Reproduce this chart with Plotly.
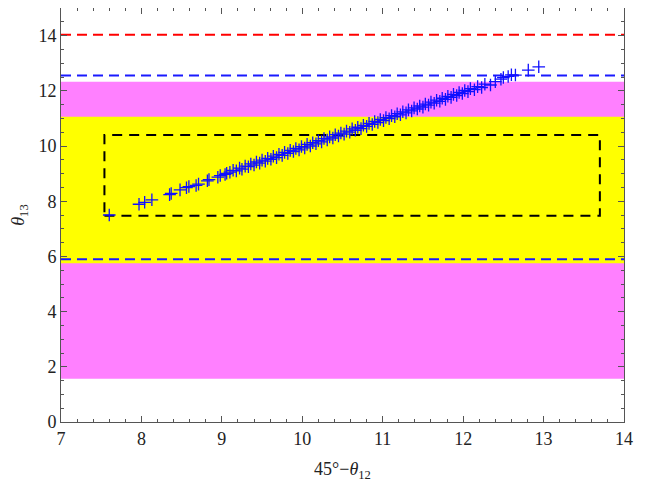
import plotly.graph_objects as go

# scatter points (45° - theta12, theta13)
x_pts = [7.60, 7.97, 8.04, 8.13, 8.35, 8.37, 8.48, 8.56, 8.59, 8.68, 8.71, 8.82, 8.84, 8.95, 8.98, 9.04, 9.06,
         9.10, 9.14, 9.18, 9.22, 9.25, 9.29, 9.33, 9.36, 9.40, 9.43, 9.47, 9.50, 9.54, 9.57, 9.61, 9.64, 9.68,
         9.71, 9.75, 9.78, 9.82, 9.85, 9.89, 9.92, 9.96, 9.99, 10.03, 10.06, 10.10, 10.13, 10.17, 10.20, 10.24,
         10.27, 10.31, 10.34, 10.38, 10.41, 10.45, 10.48, 10.52, 10.55, 10.59, 10.62, 10.66, 10.69, 10.73, 10.76,
         10.80, 10.83, 10.87, 10.90, 10.94, 10.97, 11.01, 11.04, 11.08, 11.11, 11.15, 11.18, 11.22, 11.25, 11.29,
         11.32, 11.36, 11.39, 11.43, 11.46, 11.50, 11.53, 11.57, 11.60, 11.64, 11.67, 11.71, 11.74, 11.78, 11.81,
         11.85, 11.88, 11.92, 11.95, 11.99, 12.02, 12.06, 12.09, 12.14, 12.18, 12.23, 12.27, 12.34, 12.40, 12.47,
         12.50, 12.56, 12.60, 12.65, 12.81, 12.94]
y_pts = [7.50, 7.89, 7.96, 8.05, 8.24, 8.28, 8.41, 8.49, 8.53, 8.57, 8.62, 8.74, 8.78, 8.87, 8.93, 8.97, 9.01,
         9.05, 9.12, 9.10, 9.20, 9.16, 9.27, 9.25, 9.35, 9.31, 9.42, 9.38, 9.49, 9.45, 9.55, 9.52, 9.63, 9.58,
         9.70, 9.66, 9.77, 9.73, 9.84, 9.80, 9.91, 9.86, 9.98, 9.93, 10.06, 10.00, 10.12, 10.08, 10.19, 10.15,
         10.27, 10.22, 10.33, 10.29, 10.41, 10.36, 10.47, 10.43, 10.54, 10.50, 10.62, 10.57, 10.68, 10.63, 10.75,
         10.71, 10.82, 10.78, 10.89, 10.85, 10.96, 10.92, 11.03, 10.99, 11.10, 11.06, 11.17, 11.13, 11.24, 11.20,
         11.31, 11.27, 11.38, 11.34, 11.45, 11.41, 11.52, 11.48, 11.59, 11.55, 11.66, 11.62, 11.73, 11.69, 11.80,
         11.76, 11.87, 11.83, 11.94, 11.90, 12.01, 11.97, 12.08, 12.04, 12.15, 12.12, 12.24, 12.21, 12.33, 12.42,
         12.48, 12.52, 12.58, 12.57, 12.75, 12.87]

# horizontal bands (y ranges)
magenta_band = [1.57, 12.33]
yellow_band = [5.75, 11.06]
# dashed horizontal lines
red_line_y = 14.03
blue_lines_y = [12.55, 5.9]
# dashed black box
box_x = [7.54, 13.70]
box_y = [7.47, 10.40]

x_range = [7, 14]
y_range = [0, 15]
x_ticks = [7, 8, 9, 10, 11, 12, 13, 14]
y_ticks = [0, 2, 4, 6, 8, 10, 12, 14]

fig = go.Figure()
fig.add_trace(go.Scatter(
    x=x_pts, y=y_pts, mode="markers",
    marker=dict(symbol="cross-thin", size=9, line=dict(color="#1010ff", width=1.3), color="#1010ff"),
    showlegend=False))

shapes = [
    dict(type="rect", xref="x", yref="y", x0=x_range[0], x1=x_range[1], y0=magenta_band[0], y1=magenta_band[1],
         fillcolor="#ff80ff", line=dict(width=0), layer="below"),
    dict(type="rect", xref="x", yref="y", x0=x_range[0], x1=x_range[1], y0=yellow_band[0], y1=yellow_band[1],
         fillcolor="#ffff00", line=dict(width=0), layer="below"),
    dict(type="line", xref="x", yref="y", x0=x_range[0], x1=x_range[1], y0=red_line_y, y1=red_line_y,
         line=dict(color="#ff0000", width=2, dash="10px,6px"), layer="below"),
    dict(type="rect", xref="x", yref="y", x0=box_x[0], x1=box_x[1], y0=box_y[0], y1=box_y[1],
         line=dict(color="black", width=2, dash="10px,7px"), fillcolor="rgba(0,0,0,0)", layer="below"),
]
for yb in blue_lines_y:
    shapes.append(dict(type="line", xref="x", yref="y", x0=x_range[0], x1=x_range[1], y0=yb, y1=yb,
                       line=dict(color="#1a1aff", width=2, dash="10px,6px"), layer="below"))
fig.update_layout(shapes=shapes)

font = dict(family="Liberation Serif", size=18, color="#222")
axis_common = dict(showgrid=False, zeroline=False, showline=True, linecolor="#555", linewidth=1,
                   ticks="inside", ticklen=6, tickcolor="#555", mirror="ticks", tickfont=font,
                   automargin=False)
fig.update_xaxes(range=x_range, tickvals=x_ticks, **axis_common,
                 minor=dict(ticks="inside", ticklen=3, dtick=0.2, tickcolor="#555", showgrid=False),
                 title=dict(text="45°−<i>θ</i><sub>12</sub>", font=font, standoff=16))
fig.update_yaxes(range=y_range, tickvals=y_ticks, **axis_common,
                 minor=dict(ticks="inside", ticklen=3, dtick=0.5, tickcolor="#555", showgrid=False),
                 title=dict(text="<i>θ</i><sub>13</sub>", font=font, standoff=12))
fig.update_layout(width=631, height=474, margin=dict(l=53, r=15, t=0, b=60),
                  plot_bgcolor="white", paper_bgcolor="white", font=font)
fig.write_html("out.html")
